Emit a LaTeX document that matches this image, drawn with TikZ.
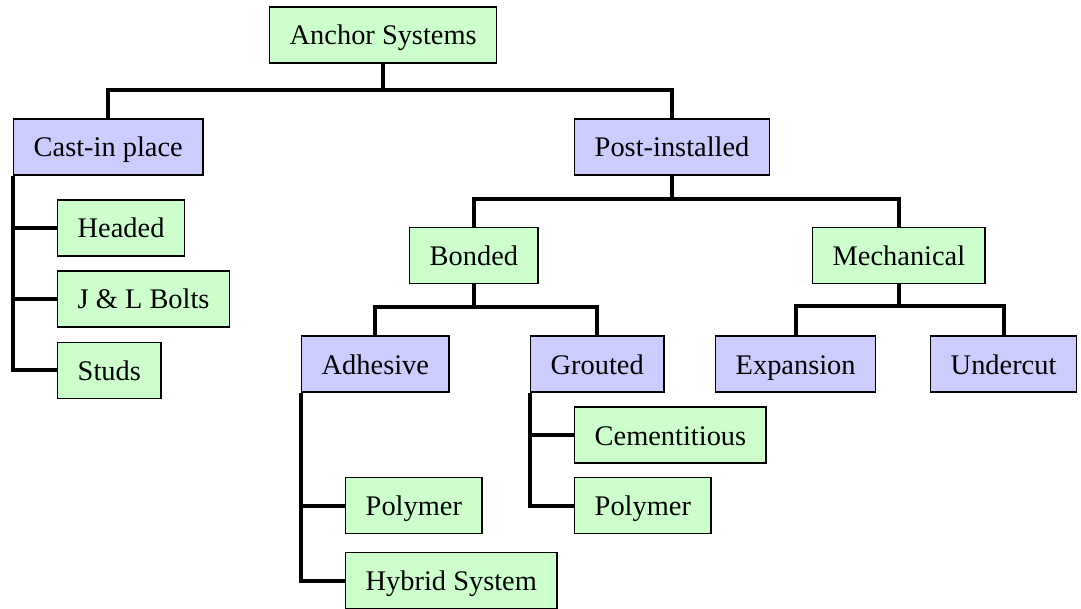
\documentclass[tikz,border=0pt]{standalone}
\usepackage{fontspec}
\setmainfont{Liberation Serif}
\definecolor{leafgreen}{RGB}{204,255,204}
\definecolor{groupblue}{RGB}{204,204,255}
\tikzset{every picture/.style={line width=0.75pt}}
\tikzset{
  box/.style={draw=black,line width=1.1pt,inner xsep=15pt,inner ysep=0pt,text height=17.5pt,text depth=2.5pt,minimum height=42pt,anchor=west,font=\fontsize{21.3}{25}\selectfont},
  leaf/.style={box,fill=leafgreen},
  group/.style={box,fill=groupblue},
  link/.style={draw=black,line width=3pt}
}

\begin{document}
\begin{tikzpicture}[x=0.75pt,y=0.75pt,yscale=-1,xscale=1]
	\useasboundingbox (0,0) rectangle (1081,609);

	% Text Node
	\node [leaf] (root) at (269,35) {Anchor Systems};
	% Text Node
	\node [group] (cast) at (13,147) {Cast-in place};
	% Text Node
	\node [group] (post) at (574,147) {Post-installed};
	% Text Node
	\node [leaf] (headed) at (57,228) {Headed};
	% Text Node
	\node [leaf] (jlbolts) at (57,299) {J \& L Bolts};
	% Text Node
	\node [leaf] (studs) at (57,370.5) {Studs};
	% Text Node
	\node [leaf] (bonded) at (409,255.5) {Bonded};
	% Text Node
	\node [leaf] (mech) at (812,255.5) {Mechanical};
	% Text Node
	\node [group] (adhesive) at (301,364) {Adhesive};
	% Text Node
	\node [group] (grouted) at (530,364) {Grouted};
	% Text Node
	\node [group] (expansion) at (715,364) {Expansion};
	% Text Node
	\node [group] (undercut) at (930,364) {Undercut};
	% Text Node
	\node [leaf] (cement) at (574,435) {Cementitious};
	% Text Node
	\node [leaf] (polyG) at (574,505.5) {Polymer};
	% Text Node
	\node [leaf] (polyA) at (345,505.5) {Polymer};
	% Text Node
	\node [leaf] (hybrid) at (345,580.5) {Hybrid System};

	% bus points
	\coordinate (busroot) at (root.south |- 0,90);
	\coordinate (buspost) at (post.south |- 0,199);
	\coordinate (busbond) at (bonded.south |- 0,307);
	\coordinate (busmech) at (mech.south |- 0,306);

	%Straight Lines
	\draw [link] (root.south) -- (busroot);
	\draw [link] (cast.north) |- (busroot) -| (post.north);
	%Straight Lines
	\draw [link] (post.south) -- (buspost);
	\draw [link] (bonded.north) |- (buspost) -| (mech.north);
	%Straight Lines
	\draw [link] (bonded.south) -- (busbond);
	\draw [link] (adhesive.north) |- (busbond) -| (grouted.north);
	%Straight Lines
	\draw [link] (mech.south) -- (busmech);
	\draw [link] (expansion.north) |- (busmech) -| (undercut.north);
	%Straight Lines
	\draw [link] (cast.south west) |- (headed.west);
	\draw [link] (cast.south west) |- (jlbolts.west);
	\draw [link] (cast.south west) |- (studs.west);
	%Straight Lines
	\draw [link] (adhesive.south west) |- (polyA.west);
	\draw [link] (adhesive.south west) |- (hybrid.west);
	%Straight Lines
	\draw [link] (grouted.south west) |- (cement.west);
	\draw [link] (grouted.south west) |- (polyG.west);

\end{tikzpicture}
\end{document}
